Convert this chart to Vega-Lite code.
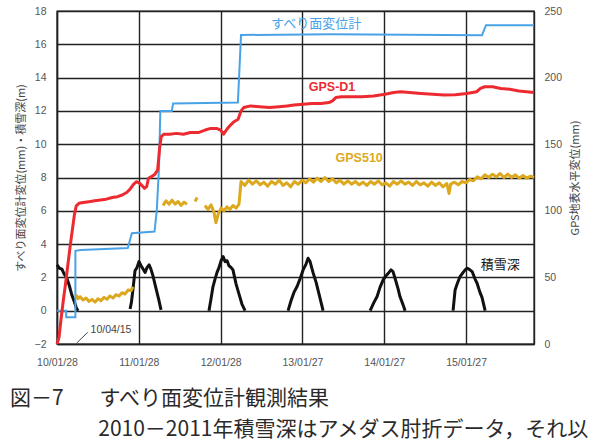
{
  "$schema": "https://vega.github.io/schema/vega-lite/v6.json",
  "width": 477,
  "height": 333,
  "autosize": {"type": "none"},
  "padding": {"left": 57, "top": 11, "right": 62, "bottom": 104},
  "config": {
    "view": {"stroke": "#222222", "strokeWidth": 1.4},
    "font": "Noto Sans CJK JP"
  },
  "title": {
    "text": ["図－7\u3000\u2002\u2009すべり面変位計観測結果", "\u200b\u3000\u3000\u3000\u3000\u20092010－2011年積雪深はアメダス肘折データ，それ以"],
    "orient": "bottom",
    "anchor": "start",
    "frame": "bounds",
    "font": "Noto Sans CJK JP",
    "fontSize": 21,
    "fontWeight": "normal",
    "color": "#2a2a2a",
    "lineHeight": 31,
    "offset": 20,
    "dx": -5
  },
  "datasets": {
    "lines": [
      {"series": "すべり面変位計", "segment": "s1", "date": "2010-01-28", "value": 0},
      {"series": "すべり面変位計", "segment": "s1", "date": "2010-03-10", "value": 0},
      {"series": "すべり面変位計", "segment": "s1", "date": "2010-03-10", "value": -0.4},
      {"series": "すべり面変位計", "segment": "s1", "date": "2010-04-20", "value": -0.4},
      {"series": "すべり面変位計", "segment": "s1", "date": "2010-04-20", "value": 3.6},
      {"series": "すべり面変位計", "segment": "s1", "date": "2010-05-15", "value": 3.65},
      {"series": "すべり面変位計", "segment": "s1", "date": "2010-12-10", "value": 3.77},
      {"series": "すべり面変位計", "segment": "s1", "date": "2010-12-28", "value": 4.65},
      {"series": "すべり面変位計", "segment": "s1", "date": "2011-04-08", "value": 4.75},
      {"series": "すべり面変位計", "segment": "s1", "date": "2011-04-18", "value": 6.0},
      {"series": "すべり面変位計", "segment": "s1", "date": "2011-04-28", "value": 8.6},
      {"series": "すべり面変位計", "segment": "s1", "date": "2011-05-04", "value": 12.0},
      {"series": "すべり面変位計", "segment": "s1", "date": "2011-06-24", "value": 12.0},
      {"series": "すべり面変位計", "segment": "s1", "date": "2011-06-30", "value": 12.45},
      {"series": "すべり面変位計", "segment": "s1", "date": "2012-04-14", "value": 12.5},
      {"series": "すべり面変位計", "segment": "s1", "date": "2012-04-28", "value": 16.56},
      {"series": "すべり面変位計", "segment": "s1", "date": "2013-06-01", "value": 16.6},
      {"series": "すべり面変位計", "segment": "s1", "date": "2015-04-08", "value": 16.55},
      {"series": "すべり面変位計", "segment": "s1", "date": "2015-04-26", "value": 17.15},
      {"series": "すべり面変位計", "segment": "s1", "date": "2015-11-26", "value": 17.15},

      {"series": "GPS-D1", "segment": "d1", "date": "2010-01-28", "value": -2.0},
      {"series": "GPS-D1", "segment": "d1", "date": "2010-02-06", "value": -1.6},
      {"series": "GPS-D1", "segment": "d1", "date": "2010-02-15", "value": -0.5},
      {"series": "GPS-D1", "segment": "d1", "date": "2010-02-25", "value": 0.6},
      {"series": "GPS-D1", "segment": "d1", "date": "2010-03-07", "value": 1.6},
      {"series": "GPS-D1", "segment": "d1", "date": "2010-03-17", "value": 2.7},
      {"series": "GPS-D1", "segment": "d1", "date": "2010-03-27", "value": 3.8},
      {"series": "GPS-D1", "segment": "d1", "date": "2010-04-06", "value": 4.8},
      {"series": "GPS-D1", "segment": "d1", "date": "2010-04-16", "value": 5.8},
      {"series": "GPS-D1", "segment": "d1", "date": "2010-04-24", "value": 6.3},
      {"series": "GPS-D1", "segment": "d1", "date": "2010-05-06", "value": 6.45},
      {"series": "GPS-D1", "segment": "d1", "date": "2010-05-25", "value": 6.5},
      {"series": "GPS-D1", "segment": "d1", "date": "2010-06-20", "value": 6.55},
      {"series": "GPS-D1", "segment": "d1", "date": "2010-07-15", "value": 6.6},
      {"series": "GPS-D1", "segment": "d1", "date": "2010-08-10", "value": 6.65},
      {"series": "GPS-D1", "segment": "d1", "date": "2010-09-05", "value": 6.7},
      {"series": "GPS-D1", "segment": "d1", "date": "2010-10-01", "value": 6.8},
      {"series": "GPS-D1", "segment": "d1", "date": "2010-10-25", "value": 6.85},
      {"series": "GPS-D1", "segment": "d1", "date": "2010-11-15", "value": 6.95},
      {"series": "GPS-D1", "segment": "d1", "date": "2010-12-05", "value": 7.1},
      {"series": "GPS-D1", "segment": "d1", "date": "2010-12-20", "value": 7.3},
      {"series": "GPS-D1", "segment": "d1", "date": "2011-01-05", "value": 7.6},
      {"series": "GPS-D1", "segment": "d1", "date": "2011-01-18", "value": 7.75},
      {"series": "GPS-D1", "segment": "d1", "date": "2011-02-01", "value": 7.65},
      {"series": "GPS-D1", "segment": "d1", "date": "2011-02-12", "value": 7.5},
      {"series": "GPS-D1", "segment": "d1", "date": "2011-02-22", "value": 7.35},
      {"series": "GPS-D1", "segment": "d1", "date": "2011-03-04", "value": 7.45},
      {"series": "GPS-D1", "segment": "d1", "date": "2011-03-12", "value": 7.95},
      {"series": "GPS-D1", "segment": "d1", "date": "2011-03-25", "value": 8.05},
      {"series": "GPS-D1", "segment": "d1", "date": "2011-04-10", "value": 8.2},
      {"series": "GPS-D1", "segment": "d1", "date": "2011-04-22", "value": 8.45},
      {"series": "GPS-D1", "segment": "d1", "date": "2011-05-01", "value": 9.8},
      {"series": "GPS-D1", "segment": "d1", "date": "2011-05-08", "value": 10.45},
      {"series": "GPS-D1", "segment": "d1", "date": "2011-05-20", "value": 10.6},
      {"series": "GPS-D1", "segment": "d1", "date": "2011-06-15", "value": 10.6},
      {"series": "GPS-D1", "segment": "d1", "date": "2011-07-15", "value": 10.65},
      {"series": "GPS-D1", "segment": "d1", "date": "2011-08-15", "value": 10.6},
      {"series": "GPS-D1", "segment": "d1", "date": "2011-09-15", "value": 10.7},
      {"series": "GPS-D1", "segment": "d1", "date": "2011-10-20", "value": 10.7},
      {"series": "GPS-D1", "segment": "d1", "date": "2011-11-20", "value": 10.85},
      {"series": "GPS-D1", "segment": "d1", "date": "2011-12-15", "value": 10.95},
      {"series": "GPS-D1", "segment": "d1", "date": "2012-01-10", "value": 10.95},
      {"series": "GPS-D1", "segment": "d1", "date": "2012-01-28", "value": 10.85},
      {"series": "GPS-D1", "segment": "d1", "date": "2012-02-10", "value": 10.6},
      {"series": "GPS-D1", "segment": "d1", "date": "2012-02-25", "value": 10.9},
      {"series": "GPS-D1", "segment": "d1", "date": "2012-03-12", "value": 11.15},
      {"series": "GPS-D1", "segment": "d1", "date": "2012-03-28", "value": 11.35},
      {"series": "GPS-D1", "segment": "d1", "date": "2012-04-15", "value": 11.5},
      {"series": "GPS-D1", "segment": "d1", "date": "2012-04-28", "value": 12.0},
      {"series": "GPS-D1", "segment": "d1", "date": "2012-05-10", "value": 12.2},
      {"series": "GPS-D1", "segment": "d1", "date": "2012-06-10", "value": 12.3},
      {"series": "GPS-D1", "segment": "d1", "date": "2012-07-20", "value": 12.25},
      {"series": "GPS-D1", "segment": "d1", "date": "2012-09-01", "value": 12.2},
      {"series": "GPS-D1", "segment": "d1", "date": "2012-10-15", "value": 12.25},
      {"series": "GPS-D1", "segment": "d1", "date": "2012-11-20", "value": 12.3},
      {"series": "GPS-D1", "segment": "d1", "date": "2012-12-20", "value": 12.35},
      {"series": "GPS-D1", "segment": "d1", "date": "2013-01-30", "value": 12.4},
      {"series": "GPS-D1", "segment": "d1", "date": "2013-03-10", "value": 12.45},
      {"series": "GPS-D1", "segment": "d1", "date": "2013-04-20", "value": 12.45},
      {"series": "GPS-D1", "segment": "d1", "date": "2013-05-25", "value": 12.5},
      {"series": "GPS-D1", "segment": "d1", "date": "2013-06-10", "value": 12.6},
      {"series": "GPS-D1", "segment": "d1", "date": "2013-06-25", "value": 12.8},
      {"series": "GPS-D1", "segment": "d1", "date": "2013-07-20", "value": 12.85},
      {"series": "GPS-D1", "segment": "d1", "date": "2013-09-01", "value": 12.85},
      {"series": "GPS-D1", "segment": "d1", "date": "2013-10-20", "value": 12.85},
      {"series": "GPS-D1", "segment": "d1", "date": "2013-12-10", "value": 12.9},
      {"series": "GPS-D1", "segment": "d1", "date": "2014-01-30", "value": 13.0},
      {"series": "GPS-D1", "segment": "d1", "date": "2014-03-10", "value": 13.1},
      {"series": "GPS-D1", "segment": "d1", "date": "2014-04-10", "value": 13.15},
      {"series": "GPS-D1", "segment": "d1", "date": "2014-05-20", "value": 13.1},
      {"series": "GPS-D1", "segment": "d1", "date": "2014-07-10", "value": 13.05},
      {"series": "GPS-D1", "segment": "d1", "date": "2014-09-01", "value": 13.0},
      {"series": "GPS-D1", "segment": "d1", "date": "2014-10-20", "value": 12.95},
      {"series": "GPS-D1", "segment": "d1", "date": "2014-12-10", "value": 12.97},
      {"series": "GPS-D1", "segment": "d1", "date": "2015-01-30", "value": 13.05},
      {"series": "GPS-D1", "segment": "d1", "date": "2015-03-15", "value": 13.15},
      {"series": "GPS-D1", "segment": "d1", "date": "2015-04-01", "value": 13.35},
      {"series": "GPS-D1", "segment": "d1", "date": "2015-04-20", "value": 13.45},
      {"series": "GPS-D1", "segment": "d1", "date": "2015-05-25", "value": 13.45},
      {"series": "GPS-D1", "segment": "d1", "date": "2015-07-01", "value": 13.35},
      {"series": "GPS-D1", "segment": "d1", "date": "2015-08-10", "value": 13.3},
      {"series": "GPS-D1", "segment": "d1", "date": "2015-09-20", "value": 13.2},
      {"series": "GPS-D1", "segment": "d1", "date": "2015-11-26", "value": 13.1},

      {"series": "積雪深", "segment": "w2010", "date": "2010-01-28", "value": 2.75},
      {"series": "積雪深", "segment": "w2010", "date": "2010-02-08", "value": 2.55},
      {"series": "積雪深", "segment": "w2010", "date": "2010-02-19", "value": 2.5},
      {"series": "積雪深", "segment": "w2010", "date": "2010-03-01", "value": 2.2},
      {"series": "積雪深", "segment": "w2010", "date": "2010-03-12", "value": 2.0},
      {"series": "積雪深", "segment": "w2010", "date": "2010-03-24", "value": 1.5},
      {"series": "積雪深", "segment": "w2010", "date": "2010-04-04", "value": 0.95},
      {"series": "積雪深", "segment": "w2010", "date": "2010-04-15", "value": 0.55},
      {"series": "積雪深", "segment": "w2010", "date": "2010-04-25", "value": 0.15},
      {"series": "積雪深", "segment": "w2010", "date": "2010-05-02", "value": 0.0},

      {"series": "積雪深", "segment": "w2011", "date": "2010-12-20", "value": 0.1},
      {"series": "積雪深", "segment": "w2011", "date": "2010-12-26", "value": 0.5},
      {"series": "積雪深", "segment": "w2011", "date": "2011-01-02", "value": 1.3},
      {"series": "積雪深", "segment": "w2011", "date": "2011-01-11", "value": 2.4},
      {"series": "積雪深", "segment": "w2011", "date": "2011-01-20", "value": 2.6},
      {"series": "積雪深", "segment": "w2011", "date": "2011-01-29", "value": 2.95},
      {"series": "積雪深", "segment": "w2011", "date": "2011-02-07", "value": 2.7},
      {"series": "積雪深", "segment": "w2011", "date": "2011-02-16", "value": 2.5},
      {"series": "積雪深", "segment": "w2011", "date": "2011-02-25", "value": 2.3},
      {"series": "積雪深", "segment": "w2011", "date": "2011-03-06", "value": 2.6},
      {"series": "積雪深", "segment": "w2011", "date": "2011-03-15", "value": 2.75},
      {"series": "積雪深", "segment": "w2011", "date": "2011-03-23", "value": 2.5},
      {"series": "積雪深", "segment": "w2011", "date": "2011-04-01", "value": 2.1},
      {"series": "積雪深", "segment": "w2011", "date": "2011-04-10", "value": 1.6},
      {"series": "積雪深", "segment": "w2011", "date": "2011-04-19", "value": 1.1},
      {"series": "積雪深", "segment": "w2011", "date": "2011-04-28", "value": 0.6},
      {"series": "積雪深", "segment": "w2011", "date": "2011-05-07", "value": 0.05},

      {"series": "積雪深", "segment": "w2012", "date": "2011-12-07", "value": 0.0},
      {"series": "積雪深", "segment": "w2012", "date": "2011-12-16", "value": 0.7},
      {"series": "積雪深", "segment": "w2012", "date": "2011-12-25", "value": 1.45},
      {"series": "積雪深", "segment": "w2012", "date": "2012-01-03", "value": 1.9},
      {"series": "積雪深", "segment": "w2012", "date": "2012-01-12", "value": 2.3},
      {"series": "積雪深", "segment": "w2012", "date": "2012-01-21", "value": 2.6},
      {"series": "積雪深", "segment": "w2012", "date": "2012-01-30", "value": 3.0},
      {"series": "積雪深", "segment": "w2012", "date": "2012-02-08", "value": 3.25},
      {"series": "積雪深", "segment": "w2012", "date": "2012-02-17", "value": 2.95},
      {"series": "積雪深", "segment": "w2012", "date": "2012-02-26", "value": 3.0},
      {"series": "積雪深", "segment": "w2012", "date": "2012-03-05", "value": 2.7},
      {"series": "積雪深", "segment": "w2012", "date": "2012-03-14", "value": 2.6},
      {"series": "積雪深", "segment": "w2012", "date": "2012-03-23", "value": 2.45},
      {"series": "積雪深", "segment": "w2012", "date": "2012-04-06", "value": 1.6},
      {"series": "積雪深", "segment": "w2012", "date": "2012-04-19", "value": 1.0},
      {"series": "積雪深", "segment": "w2012", "date": "2012-05-02", "value": 0.4},
      {"series": "積雪深", "segment": "w2012", "date": "2012-05-16", "value": 0.0},

      {"series": "積雪深", "segment": "w2013", "date": "2012-11-24", "value": 0.0},
      {"series": "積雪深", "segment": "w2013", "date": "2012-12-07", "value": 0.6},
      {"series": "積雪深", "segment": "w2013", "date": "2012-12-20", "value": 1.1},
      {"series": "積雪深", "segment": "w2013", "date": "2013-01-03", "value": 1.45},
      {"series": "積雪深", "segment": "w2013", "date": "2013-01-16", "value": 1.9},
      {"series": "積雪深", "segment": "w2013", "date": "2013-01-30", "value": 2.45},
      {"series": "積雪深", "segment": "w2013", "date": "2013-02-12", "value": 2.8},
      {"series": "積雪深", "segment": "w2013", "date": "2013-02-21", "value": 3.15},
      {"series": "積雪深", "segment": "w2013", "date": "2013-03-02", "value": 2.95},
      {"series": "積雪深", "segment": "w2013", "date": "2013-03-15", "value": 2.3},
      {"series": "積雪深", "segment": "w2013", "date": "2013-03-29", "value": 1.7},
      {"series": "積雪深", "segment": "w2013", "date": "2013-04-11", "value": 1.0},
      {"series": "積雪深", "segment": "w2013", "date": "2013-04-20", "value": 0.5},
      {"series": "積雪深", "segment": "w2013", "date": "2013-04-29", "value": 0.0},

      {"series": "積雪深", "segment": "w2014", "date": "2013-11-25", "value": 0.0},
      {"series": "積雪深", "segment": "w2014", "date": "2013-12-12", "value": 0.5},
      {"series": "積雪深", "segment": "w2014", "date": "2013-12-26", "value": 0.85},
      {"series": "積雪深", "segment": "w2014", "date": "2014-01-08", "value": 1.4},
      {"series": "積雪深", "segment": "w2014", "date": "2014-01-22", "value": 1.85},
      {"series": "積雪深", "segment": "w2014", "date": "2014-02-04", "value": 2.1},
      {"series": "積雪深", "segment": "w2014", "date": "2014-02-17", "value": 2.3},
      {"series": "積雪深", "segment": "w2014", "date": "2014-02-26", "value": 2.45},
      {"series": "積雪深", "segment": "w2014", "date": "2014-03-07", "value": 2.35},
      {"series": "積雪深", "segment": "w2014", "date": "2014-03-16", "value": 1.95},
      {"series": "積雪深", "segment": "w2014", "date": "2014-03-30", "value": 1.3},
      {"series": "積雪深", "segment": "w2014", "date": "2014-04-07", "value": 0.85},
      {"series": "積雪深", "segment": "w2014", "date": "2014-04-21", "value": 0.35},
      {"series": "積雪深", "segment": "w2014", "date": "2014-04-30", "value": 0.0},

      {"series": "積雪深", "segment": "w2015", "date": "2014-11-30", "value": 0.0},
      {"series": "積雪深", "segment": "w2015", "date": "2014-12-09", "value": 1.25},
      {"series": "積雪深", "segment": "w2015", "date": "2014-12-18", "value": 1.6},
      {"series": "積雪深", "segment": "w2015", "date": "2014-12-31", "value": 2.05},
      {"series": "積雪深", "segment": "w2015", "date": "2015-01-14", "value": 2.3},
      {"series": "積雪深", "segment": "w2015", "date": "2015-01-23", "value": 2.45},
      {"series": "積雪深", "segment": "w2015", "date": "2015-01-31", "value": 2.55},
      {"series": "積雪深", "segment": "w2015", "date": "2015-02-09", "value": 2.5},
      {"series": "積雪深", "segment": "w2015", "date": "2015-02-23", "value": 2.35},
      {"series": "積雪深", "segment": "w2015", "date": "2015-03-08", "value": 1.9},
      {"series": "積雪深", "segment": "w2015", "date": "2015-03-17", "value": 1.65},
      {"series": "積雪深", "segment": "w2015", "date": "2015-03-30", "value": 1.1},
      {"series": "積雪深", "segment": "w2015", "date": "2015-04-08", "value": 0.8},
      {"series": "積雪深", "segment": "w2015", "date": "2015-04-22", "value": 0.0}
    ],
    "gps510": [
      {"series": "GPS510", "segment": "a", "date": "2010-04-23", "mm": 37},
      {"series": "GPS510", "segment": "a", "date": "2010-05-02", "mm": 34},
      {"series": "GPS510", "segment": "a", "date": "2010-05-11", "mm": 35.5},
      {"series": "GPS510", "segment": "a", "date": "2010-05-24", "mm": 33},
      {"series": "GPS510", "segment": "a", "date": "2010-06-06", "mm": 34.5},
      {"series": "GPS510", "segment": "a", "date": "2010-06-20", "mm": 32},
      {"series": "GPS510", "segment": "a", "date": "2010-07-03", "mm": 33.5},
      {"series": "GPS510", "segment": "a", "date": "2010-07-17", "mm": 31.5},
      {"series": "GPS510", "segment": "a", "date": "2010-07-30", "mm": 34},
      {"series": "GPS510", "segment": "a", "date": "2010-08-12", "mm": 32.5},
      {"series": "GPS510", "segment": "a", "date": "2010-08-26", "mm": 35},
      {"series": "GPS510", "segment": "a", "date": "2010-09-08", "mm": 33.5},
      {"series": "GPS510", "segment": "a", "date": "2010-09-21", "mm": 36},
      {"series": "GPS510", "segment": "a", "date": "2010-10-05", "mm": 34.5},
      {"series": "GPS510", "segment": "a", "date": "2010-10-18", "mm": 37},
      {"series": "GPS510", "segment": "a", "date": "2010-11-01", "mm": 36},
      {"series": "GPS510", "segment": "a", "date": "2010-11-14", "mm": 38.5},
      {"series": "GPS510", "segment": "a", "date": "2010-11-27", "mm": 37.5},
      {"series": "GPS510", "segment": "a", "date": "2010-12-11", "mm": 40.5},
      {"series": "GPS510", "segment": "a", "date": "2010-12-24", "mm": 40},
      {"series": "GPS510", "segment": "a", "date": "2011-01-02", "mm": 43},

      {"series": "GPS510", "segment": "b", "date": "2011-05-16", "mm": 104},
      {"series": "GPS510", "segment": "b", "date": "2011-05-29", "mm": 107.5},
      {"series": "GPS510", "segment": "b", "date": "2011-06-12", "mm": 105},
      {"series": "GPS510", "segment": "b", "date": "2011-06-25", "mm": 108},
      {"series": "GPS510", "segment": "b", "date": "2011-07-09", "mm": 105},
      {"series": "GPS510", "segment": "b", "date": "2011-07-22", "mm": 107},
      {"series": "GPS510", "segment": "b", "date": "2011-08-04", "mm": 104},
      {"series": "GPS510", "segment": "b", "date": "2011-08-18", "mm": 106.5},
      {"series": "GPS510", "segment": "b", "date": "2011-08-31", "mm": 105},

      {"series": "GPS510", "segment": "c", "date": "2011-10-06", "mm": 107},
      {"series": "GPS510", "segment": "c", "date": "2011-10-15", "mm": 110},

      {"series": "GPS510", "segment": "d", "date": "2011-11-19", "mm": 104},
      {"series": "GPS510", "segment": "d", "date": "2011-12-03", "mm": 101},
      {"series": "GPS510", "segment": "d", "date": "2011-12-16", "mm": 104.5},
      {"series": "GPS510", "segment": "d", "date": "2011-12-29", "mm": 99},
      {"series": "GPS510", "segment": "d", "date": "2012-01-07", "mm": 91},
      {"series": "GPS510", "segment": "d", "date": "2012-01-16", "mm": 97},
      {"series": "GPS510", "segment": "d", "date": "2012-01-30", "mm": 102},
      {"series": "GPS510", "segment": "d", "date": "2012-02-12", "mm": 100},
      {"series": "GPS510", "segment": "d", "date": "2012-02-25", "mm": 103},
      {"series": "GPS510", "segment": "d", "date": "2012-03-10", "mm": 101},
      {"series": "GPS510", "segment": "d", "date": "2012-03-23", "mm": 104},
      {"series": "GPS510", "segment": "d", "date": "2012-04-06", "mm": 102},
      {"series": "GPS510", "segment": "d", "date": "2012-04-19", "mm": 105},
      {"series": "GPS510", "segment": "d", "date": "2012-04-28", "mm": 122},
      {"series": "GPS510", "segment": "d", "date": "2012-05-15", "mm": 119},
      {"series": "GPS510", "segment": "d", "date": "2012-06-01", "mm": 123},
      {"series": "GPS510", "segment": "d", "date": "2012-06-18", "mm": 120},
      {"series": "GPS510", "segment": "d", "date": "2012-07-05", "mm": 122.5},
      {"series": "GPS510", "segment": "d", "date": "2012-07-22", "mm": 119.5},
      {"series": "GPS510", "segment": "d", "date": "2012-08-08", "mm": 121.5},
      {"series": "GPS510", "segment": "d", "date": "2012-08-25", "mm": 118.5},
      {"series": "GPS510", "segment": "d", "date": "2012-09-11", "mm": 122},
      {"series": "GPS510", "segment": "d", "date": "2012-09-28", "mm": 120},
      {"series": "GPS510", "segment": "d", "date": "2012-10-15", "mm": 123},
      {"series": "GPS510", "segment": "d", "date": "2012-11-01", "mm": 119},
      {"series": "GPS510", "segment": "d", "date": "2012-11-18", "mm": 121},
      {"series": "GPS510", "segment": "d", "date": "2012-12-05", "mm": 118},
      {"series": "GPS510", "segment": "d", "date": "2012-12-22", "mm": 122},
      {"series": "GPS510", "segment": "d", "date": "2013-01-08", "mm": 120},
      {"series": "GPS510", "segment": "d", "date": "2013-01-25", "mm": 123},
      {"series": "GPS510", "segment": "d", "date": "2013-02-11", "mm": 121},
      {"series": "GPS510", "segment": "d", "date": "2013-02-28", "mm": 124},
      {"series": "GPS510", "segment": "d", "date": "2013-03-17", "mm": 121.5},
      {"series": "GPS510", "segment": "d", "date": "2013-04-03", "mm": 124.5},
      {"series": "GPS510", "segment": "d", "date": "2013-04-20", "mm": 122},
      {"series": "GPS510", "segment": "d", "date": "2013-05-07", "mm": 125},
      {"series": "GPS510", "segment": "d", "date": "2013-05-24", "mm": 122},
      {"series": "GPS510", "segment": "d", "date": "2013-06-10", "mm": 124},
      {"series": "GPS510", "segment": "d", "date": "2013-06-27", "mm": 121},
      {"series": "GPS510", "segment": "d", "date": "2013-07-14", "mm": 123},
      {"series": "GPS510", "segment": "d", "date": "2013-07-31", "mm": 120},
      {"series": "GPS510", "segment": "d", "date": "2013-08-17", "mm": 122.5},
      {"series": "GPS510", "segment": "d", "date": "2013-09-03", "mm": 120},
      {"series": "GPS510", "segment": "d", "date": "2013-09-20", "mm": 122},
      {"series": "GPS510", "segment": "d", "date": "2013-10-07", "mm": 119.5},
      {"series": "GPS510", "segment": "d", "date": "2013-10-24", "mm": 121.5},
      {"series": "GPS510", "segment": "d", "date": "2013-11-10", "mm": 119},
      {"series": "GPS510", "segment": "d", "date": "2013-11-27", "mm": 122},
      {"series": "GPS510", "segment": "d", "date": "2013-12-14", "mm": 120},
      {"series": "GPS510", "segment": "d", "date": "2013-12-31", "mm": 122.5},
      {"series": "GPS510", "segment": "d", "date": "2014-01-17", "mm": 119.5},
      {"series": "GPS510", "segment": "d", "date": "2014-02-03", "mm": 121},
      {"series": "GPS510", "segment": "d", "date": "2014-02-20", "mm": 118.5},
      {"series": "GPS510", "segment": "d", "date": "2014-03-09", "mm": 122},
      {"series": "GPS510", "segment": "d", "date": "2014-03-26", "mm": 120},
      {"series": "GPS510", "segment": "d", "date": "2014-04-12", "mm": 122.5},
      {"series": "GPS510", "segment": "d", "date": "2014-04-29", "mm": 120},
      {"series": "GPS510", "segment": "d", "date": "2014-05-16", "mm": 121.5},
      {"series": "GPS510", "segment": "d", "date": "2014-06-02", "mm": 119},
      {"series": "GPS510", "segment": "d", "date": "2014-06-19", "mm": 122},
      {"series": "GPS510", "segment": "d", "date": "2014-07-06", "mm": 119.5},
      {"series": "GPS510", "segment": "d", "date": "2014-07-23", "mm": 121},
      {"series": "GPS510", "segment": "d", "date": "2014-08-09", "mm": 118.5},
      {"series": "GPS510", "segment": "d", "date": "2014-08-26", "mm": 121.5},
      {"series": "GPS510", "segment": "d", "date": "2014-09-12", "mm": 119},
      {"series": "GPS510", "segment": "d", "date": "2014-09-29", "mm": 121},
      {"series": "GPS510", "segment": "d", "date": "2014-10-16", "mm": 118},
      {"series": "GPS510", "segment": "d", "date": "2014-11-02", "mm": 120.5},
      {"series": "GPS510", "segment": "d", "date": "2014-11-12", "mm": 113},
      {"series": "GPS510", "segment": "d", "date": "2014-11-19", "mm": 120},
      {"series": "GPS510", "segment": "d", "date": "2014-12-06", "mm": 121.5},
      {"series": "GPS510", "segment": "d", "date": "2014-12-23", "mm": 119.5},
      {"series": "GPS510", "segment": "d", "date": "2015-01-09", "mm": 122},
      {"series": "GPS510", "segment": "d", "date": "2015-01-26", "mm": 121},
      {"series": "GPS510", "segment": "d", "date": "2015-02-12", "mm": 123.5},
      {"series": "GPS510", "segment": "d", "date": "2015-03-01", "mm": 122.5},
      {"series": "GPS510", "segment": "d", "date": "2015-03-18", "mm": 125.5},
      {"series": "GPS510", "segment": "d", "date": "2015-04-04", "mm": 124},
      {"series": "GPS510", "segment": "d", "date": "2015-04-21", "mm": 127},
      {"series": "GPS510", "segment": "d", "date": "2015-05-08", "mm": 125},
      {"series": "GPS510", "segment": "d", "date": "2015-05-25", "mm": 127.5},
      {"series": "GPS510", "segment": "d", "date": "2015-06-11", "mm": 125.5},
      {"series": "GPS510", "segment": "d", "date": "2015-06-28", "mm": 128},
      {"series": "GPS510", "segment": "d", "date": "2015-07-15", "mm": 125},
      {"series": "GPS510", "segment": "d", "date": "2015-08-01", "mm": 127.5},
      {"series": "GPS510", "segment": "d", "date": "2015-08-18", "mm": 125},
      {"series": "GPS510", "segment": "d", "date": "2015-09-04", "mm": 127},
      {"series": "GPS510", "segment": "d", "date": "2015-09-21", "mm": 124.5},
      {"series": "GPS510", "segment": "d", "date": "2015-10-08", "mm": 126.5},
      {"series": "GPS510", "segment": "d", "date": "2015-10-25", "mm": 124.5},
      {"series": "GPS510", "segment": "d", "date": "2015-11-11", "mm": 126},
      {"series": "GPS510", "segment": "d", "date": "2015-11-26", "mm": 125}
    ],
    "labels": [
      {"series": "すべり面変位計", "label": "すべり面変位計", "date": "2013-03-29", "value": 17.22},
      {"series": "GPS-D1", "label": "GPS-D1", "date": "2013-06-08", "value": 13.44},
      {"series": "GPS510", "label": "GPS510", "date": "2013-10-07", "value": 9.17},
      {"series": "積雪深", "label": "積雪深", "date": "2015-06-28", "value": 2.74},
      {"series": "注記", "label": "10/04/15", "date": "2010-09-26", "value": -1.16}
    ],
    "leader": [
      {"series": "注記", "date": "2010-04-25", "date2": "2010-06-14", "value": -1.95, "value2": -1.3}
    ]
  },
  "encoding": {
    "x": {
      "field": "date",
      "type": "temporal",
      "scale": {
        "type": "utc",
        "domain": [
          {"year": 2010, "month": 1, "date": 28, "utc": true},
          {"year": 2015, "month": 11, "date": 26, "utc": true}
        ]
      },
      "axis": {
        "values": [
          {"year": 2010, "month": 1, "date": 28, "utc": true},
          {"year": 2011, "month": 1, "date": 28, "utc": true},
          {"year": 2012, "month": 1, "date": 28, "utc": true},
          {"year": 2013, "month": 1, "date": 27, "utc": true},
          {"year": 2014, "month": 1, "date": 27, "utc": true},
          {"year": 2015, "month": 1, "date": 27, "utc": true}
        ],
        "format": "%y/%m/%d",
        "title": null,
        "grid": true,
        "gridColor": "#222222",
        "gridOpacity": 1,
        "gridWidth": 1.4,
        "domainColor": "#222222",
        "domainWidth": 1.4,
        "ticks": false,
        "labelPadding": 13,
        "labelFont": "Liberation Sans",
        "labelFontSize": 10.5,
        "labelColor": "#555555",
        "labelFlush": false
      }
    },
    "color": {
      "field": "series",
      "type": "nominal",
      "scale": {
        "domain": ["すべり面変位計", "GPS-D1", "GPS510", "積雪深", "注記"],
        "range": ["#4aa2e6", "#ec2a30", "#dca91e", "#111111", "#444444"]
      },
      "legend": null
    }
  },
  "layer": [
    {
      "encoding": {
        "y": {
          "field": "value",
          "type": "quantitative",
          "scale": {"domain": [-2, 18], "nice": false, "zero": false},
          "axis": {
            "values": [-2, 0, 2, 4, 6, 8, 10, 12, 14, 16, 18],
            "grid": true,
            "gridColor": "#222222",
            "gridOpacity": 1,
            "gridWidth": 1.4,
            "domainColor": "#222222",
            "domainWidth": 1.4,
            "ticks": false,
            "labelPadding": 11,
            "labelFont": "Liberation Sans",
            "labelFontSize": 10.5,
            "labelColor": "#555555",
            "title": "すべり面変位計変位(mm)・積雪深(m)",
            "titleFont": "Noto Sans CJK JP",
            "titleFontSize": 11,
            "titleFontWeight": "normal",
            "titleColor": "#444444",
            "titlePadding": 8
          }
        }
      },
      "layer": [
        {
          "data": {"name": "lines"},
          "transform": [{"filter": "datum.series === '積雪深'"}],
          "mark": {"type": "line", "strokeWidth": 3, "strokeJoin": "round"},
          "encoding": {"detail": {"field": "segment"}}
        },
        {
          "data": {"name": "lines"},
          "transform": [{"filter": "datum.series === 'すべり面変位計'"}],
          "mark": {"type": "line", "strokeWidth": 2, "strokeJoin": "miter"},
          "encoding": {"detail": {"field": "segment"}}
        },
        {
          "data": {"name": "lines"},
          "transform": [{"filter": "datum.series === 'GPS-D1'"}],
          "mark": {"type": "line", "strokeWidth": 3, "strokeJoin": "round"},
          "encoding": {"detail": {"field": "segment"}}
        },
        {
          "data": {"name": "leader"},
          "mark": {"type": "rule", "strokeWidth": 1},
          "encoding": {"x2": {"field": "date2"}, "y2": {"field": "value2"}}
        },
        {
          "data": {"name": "labels"},
          "transform": [{"filter": "datum.series === 'すべり面変位計' || datum.series === '積雪深'"}],
          "mark": {"type": "text", "font": "Noto Sans CJK JP", "fontSize": 13, "align": "center", "baseline": "middle"},
          "encoding": {"text": {"field": "label"}}
        },
        {
          "data": {"name": "labels"},
          "transform": [{"filter": "datum.series === 'GPS-D1' || datum.series === 'GPS510'"}],
          "mark": {"type": "text", "font": "Liberation Sans", "fontSize": 12.5, "fontWeight": "bold", "align": "center", "baseline": "middle"},
          "encoding": {"text": {"field": "label"}}
        },
        {
          "data": {"name": "labels"},
          "transform": [{"filter": "datum.series === '注記'"}],
          "mark": {"type": "text", "font": "Liberation Sans", "fontSize": 10.5, "align": "center", "baseline": "middle"},
          "encoding": {"text": {"field": "label"}}
        }
      ]
    },
    {
      "data": {"name": "gps510"},
      "mark": {"type": "line", "strokeWidth": 3, "strokeJoin": "round"},
      "encoding": {
        "y": {
          "field": "mm",
          "type": "quantitative",
          "scale": {"domain": [0, 250], "nice": false},
          "axis": {
            "orient": "right",
            "values": [0, 50, 100, 150, 200, 250],
            "grid": false,
            "domainColor": "#222222",
            "domainWidth": 1.4,
            "ticks": false,
            "labelPadding": 10,
            "labelFont": "Liberation Sans",
            "labelFontSize": 10.5,
            "labelColor": "#555555",
            "title": "GPS地表水平変位(mm)",
            "titleFont": "Noto Sans CJK JP",
            "titleFontSize": 11,
            "titleFontWeight": "normal",
            "titleColor": "#444444",
            "titleAngle": 270,
            "titleBaseline": "top",
            "titlePadding": 8
          }
        },
        "detail": {"field": "segment"}
      }
    }
  ],
  "resolve": {"scale": {"y": "independent"}}
}
